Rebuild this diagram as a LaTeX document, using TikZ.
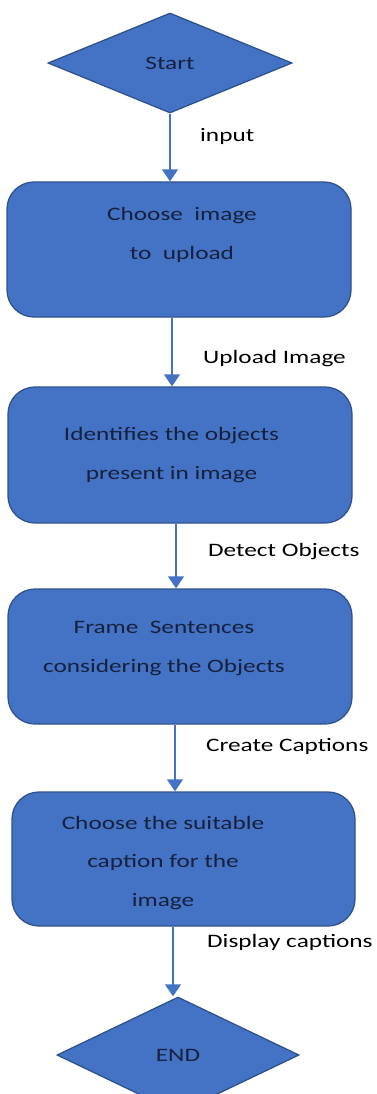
\documentclass[tikz,border=0pt]{standalone}
\usepackage{fontspec}
\newfontfamily\flowfont{Carlito}[FakeStretch=1.33]
\usetikzlibrary{shapes.geometric,arrows.meta,positioning}
\definecolor{boxblue}{HTML}{4472C4}
\definecolor{boxline}{HTML}{2F528F}
\definecolor{boxtext}{HTML}{15213D}
\newcommand{\flowsize}{\flowfont\fontsize{19}{38.5}\selectfont}
\tikzstyle{terminal} = [diamond, draw=boxline, fill=boxblue, line width=1.3pt, inner sep=0pt, text=boxtext, font=\flowsize]
\tikzstyle{process} = [rectangle, rounded corners=27pt, draw=boxline, fill=boxblue, line width=1.3pt, minimum width=344pt, minimum height=135pt]
\tikzstyle{boxlabel} = [text=boxtext, align=center, inner sep=0pt, anchor=base, font=\flowsize]
\tikzstyle{edgelabel} = [text=black, anchor=base west, inner sep=0pt, font=\flowsize]
\tikzstyle{flow} = [boxblue, line width=1.4pt, -{Triangle[width=16pt,length=12pt]}]

\begin{document}
\begin{tikzpicture}[x=1pt,y=-1pt]
  \useasboundingbox (0,0) rectangle (376,1094);

  % terminals and steps
  \node[terminal, minimum width=244pt, minimum height=100pt] (start) at (170,63) {Start};
  \node[process] (choose) at (179,249.5) {};
  \node[process, minimum height=136pt] (identify) at (180,455) {};
  \node[process] (frame) at (180,656.5) {};
  \node[process, minimum width=343pt, minimum height=134pt] (pick) at (183.5,859) {};
  \node[terminal, minimum width=242pt, minimum height=116pt] (end) at (178,1055) {END};

  % step texts (base = last line)
  \node[boxlabel] (chooseText) at (182,259) {Choose\ \ image\\to\ \ upload};
  \node[boxlabel] (identifyText) at (171.5,479) {Identifies the objects\\present in image};
  \node[boxlabel] (frameText) at (164,672) {Frame\ \ Sentences\\considering the Objects};
  \node[boxlabel] (pickText) at (163,906) {Choose the suitable\\caption for the\\image};

  % connectors
  \coordinate (c2) at ([xshift=-7pt]choose.south);
  \coordinate (c3) at ([xshift=-4pt]identify.south);
  \coordinate (c4) at ([xshift=-5pt]frame.south);
  \coordinate (c5) at ([xshift=-5pt]end.north);
  \draw[flow] (start.south) -- (start.south |- choose.north);
  \draw[flow] (c2) -- (c2 |- identify.north);
  \draw[flow] (c3) -- (c3 |- frame.north);
  \draw[flow] (c4) -- (c4 |- pick.north);
  \draw[flow] (c5 |- pick.south) -- (c5);

  % connector labels
  \node[edgelabel] (inputLbl) at (200,142) {input};
  \node[edgelabel] (uploadLbl) at (203,363) {Upload Image};
  \node[edgelabel] (detectLbl) at (208,556) {Detect Objects};
  \node[edgelabel] (createLbl) at (206,751) {Create Captions};
  \node[edgelabel] (displayLbl) at (207,947) {Display captions};
\end{tikzpicture}
\end{document}
